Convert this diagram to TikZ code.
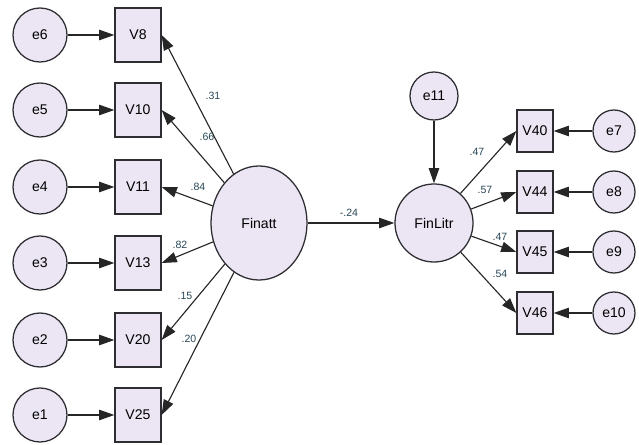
\documentclass[tikz,border=0pt]{standalone}
\usepackage{fontspec}
\setmainfont{Liberation Sans}
\usepackage{xcolor}
\usepackage{tikz}
\usetikzlibrary{arrows.meta,shapes.geometric}
\definecolor{nodefill}{RGB}{236,230,244}
\definecolor{nodeline}{RGB}{45,45,50}
\definecolor{coef}{RGB}{40,70,85}
\tikzset{
err/.style = {circle, draw=nodeline, fill=nodefill, line width=0.9pt,
              minimum size=#1, inner sep=0pt, font=\fontsize{10}{12}\selectfont},
err/.default = 1.35cm, % diameter of the error circle
obs/.style = {rectangle, draw=nodeline, fill=nodefill, line width=0.9pt,
              minimum width=#1, inner sep=0pt, font=\fontsize{10}{12}\selectfont},
obs/.default = 1.15cm,
lat/.style = {ellipse, draw=nodeline, fill=nodefill, line width=0.9pt,
              inner sep=0pt, font=\fontsize{10}{12}\selectfont},
coefl/.style = {text=coef, inner sep=0pt, font=\fontsize{7.5}{9}\selectfont},
path/.style = {-{Triangle[length=0.38cm, width=0.26cm]}, line width=0.8pt, draw=black!85}
}

\begin{document}
\begin{tikzpicture}[x=0.025cm, y=-0.025cm]
\useasboundingbox (0,0) rectangle (639,445);

    \node[err](e6) at (40,35) {e6};
    \node[err](e5) at (40,110) {e5};
    \node[err](e4) at (40,187) {e4};
    \node[err](e3) at (40,263) {e3};
    \node[err](e2) at (40,340) {e2};
    \node[err](e1) at (40,415) {e1};

    \node[obs, minimum height=1.35cm](V8) at (138,35) {V8};
    \node[obs, minimum height=1.35cm](V10) at (138,110) {V10};
    \node[obs, minimum height=1.35cm](V11) at (138,187) {V11};
    \node[obs, minimum height=1.35cm](V13) at (138,263) {V13};
    \node[obs, minimum height=1.35cm](V20) at (138,340) {V20};
    \node[obs, minimum height=1.35cm](V25) at (138,415) {V25};

    \node[lat, minimum width=2.4cm, minimum height=2.85cm](Finatt) at (259,223) {Finatt};
    \node[lat, minimum size=1.95cm](FinLitr) at (434,223) {FinLitr};
    \node[err=1.2cm](e11) at (434,96) {e11};

    \node[obs=0.9cm, minimum height=1.05cm](V40) at (535,131) {V40};
    \node[obs=0.9cm, minimum height=1.05cm](V44) at (535,192) {V44};
    \node[obs=0.9cm, minimum height=1.05cm](V45) at (535,252) {V45};
    \node[obs=0.9cm, minimum height=1.05cm](V46) at (535,313) {V46};

    \node[err=1.05cm](e7) at (614,131) {e7};
    \node[err=1.05cm](e8) at (614,192) {e8};
    \node[err=1.05cm](e9) at (614,252) {e9};
    \node[err=1.05cm](e10) at (614,313) {e10};

\foreach \e/\v in {e6/V8, e5/V10, e4/V11, e3/V13, e2/V20, e1/V25}
    \draw[path] (\e) -- (\v);
\foreach \v in {V8, V10, V11, V13, V20, V25}
    \draw[path] (Finatt) -- (\v.east);
\draw[path] (Finatt) -- (FinLitr);
\draw[path] (e11) -- (FinLitr);
\foreach \v in {V40, V44, V45, V46}
    \draw[path] (FinLitr) -- (\v.west);
\foreach \e/\v in {e7/V40, e8/V44, e9/V45, e10/V46}
    \draw[path] (\e) -- (\v);

\node[coefl](c8) at (213,96) {.31};
\node[coefl](c10) at (207,137) {.66};
\node[coefl](c11) at (198,187) {.84};
\node[coefl](c13) at (180,245) {.82};
\node[coefl](c20) at (185,296) {.15};
\node[coefl](c25) at (189,339) {.20};
\node[coefl](cfl) at (349,213) {-.24};
\node[coefl](c40) at (477,152) {.47};
\node[coefl](c44) at (485,190) {.57};
\node[coefl](c45) at (500,237) {.47};
\node[coefl](c46) at (500,274) {.54};
\end{tikzpicture}
\end{document}
